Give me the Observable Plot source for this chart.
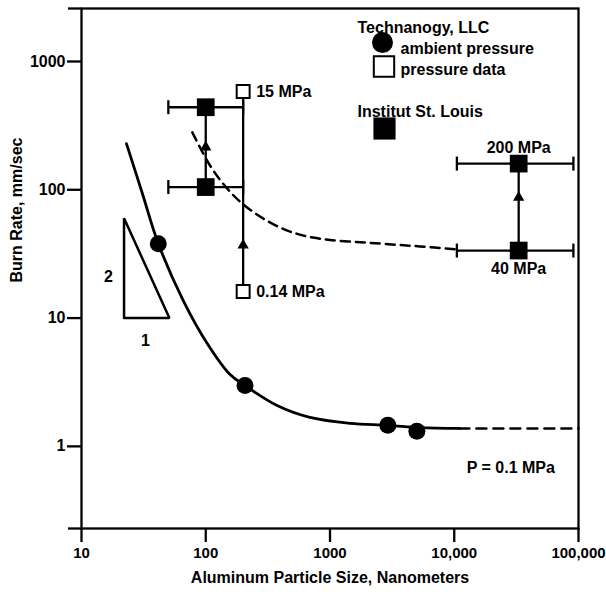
<!DOCTYPE html>
<html><head><meta charset="utf-8">
<script src="https://cdn.jsdelivr.net/npm/d3@7"></script>
<script src="https://cdn.jsdelivr.net/npm/@observablehq/plot@0.6"></script>
<style>body{margin:0;background:#fff}</style>
</head><body><div id="chart"></div>
<script>
// Solid fitted curve (ambient pressure)
const solidX = [23, 30.9, 41.5, 65.9, 102.8, 157, 207, 375, 690, 1450, 2920, 5280, 11000];
const solidY = [229, 93.6, 38.1, 13.7, 6.34, 3.63, 2.98, 2.08, 1.68, 1.51, 1.46, 1.40, 1.38];
// dashed extension of solid curve
const extX = [11000, 100000];
const extY = [1.38, 1.38];
// upper dashed curve
const upperX = [78, 108.6, 149, 215, 396, 730, 2520, 5280, 10470];
const upperY = [280, 154, 102, 72.8, 50.8, 42.4, 38.1, 36.2, 34.3];
// Technanogy ambient pressure points
const ambientX = [41.5, 207, 2920, 5000];
const ambientY = [38, 2.98, 1.46, 1.31];
// Technanogy pressure data
const pressX = [200, 200];
const pressY = [584, 16.1];
const pressLabels = ["15 MPa", "0.14 MPa"];
// Institut St. Louis
const islX = [100, 100, 33000, 33000];
const islY = [440, 105, 160, 33.6];
const islLo = [50, 50, 10500, 10500];
const islHi = [200, 200, 91000, 91000];
const islLabels = ["", "", "200 MPa", "40 MPa"];
// pressure arrows (vertical connectors)
const connX = [100, 200, 33000];
const connLo = [105, 16.1, 33.6];
const connHi = [440, 584, 160];
const arrowY = [215, 37, 87];
// slope triangle
const triX = [22, 51, 22, 22];
const triY = [10, 10, 60, 10];
const triLabelX = [16.5, 32.7];
const triLabelY = [21.1, 6.7];
const triLabels = ["2", "1"];
// note
const noteX = [12600];
const noteY = [0.685];
const noteText = ["P = 0.1 MPa"];
// ticks
const xTicks = [10, 100, 1000, 10000, 100000];
const xTickLabels = ["10", "100", "1000", "10,000", "100,000"];
const yTicks = [1, 10, 100, 1000];
const yTickLabels = ["1", "10", "100", "1000"];
const yDomain = [0.229, 2588];

const solid = solidX.map((x, i) => ({x, y: solidY[i]}));
const ext = extX.map((x, i) => ({x, y: extY[i]}));
const upper = upperX.map((x, i) => ({x, y: upperY[i]}));
const ambient = ambientX.map((x, i) => ({x, y: ambientY[i]}));
const press = pressX.map((x, i) => ({x, y: pressY[i], label: pressLabels[i]}));
const isl = islX.map((x, i) => ({x, y: islY[i], lo: islLo[i], hi: islHi[i], label: islLabels[i]}));
const conn = connX.map((x, i) => ({x, lo: connLo[i], hi: connHi[i], ay: arrowY[i]}));
const tri = triX.map((x, i) => ({x, y: triY[i]}));
const triL = triLabels.map((t, i) => ({x: triLabelX[i], y: triLabelY[i], t}));
const note = noteText.map((t, i) => ({x: noteX[i], y: noteY[i], t}));

const capSymbol = {draw(ctx, size) { const h = Math.sqrt(size / Math.PI); ctx.moveTo(0, -h); ctx.lineTo(0, h); }};
const SW = 2.3;

const chart = Plot.plot({
  width: 606, height: 592,
  marginLeft: 81, marginRight: 28, marginTop: 8, marginBottom: 64,
  style: {fontFamily: "'Liberation Sans', Arial, sans-serif", fontSize: "16px", fontWeight: "bold", color: "black", background: "white"},
  x: {type: "log", domain: [10, 100000]},
  y: {type: "log", domain: yDomain},
  marks: [
    Plot.frame({stroke: "black", strokeWidth: SW}),
    Plot.axisX({ticks: xTicks, tickFormat: d => xTickLabels[xTicks.indexOf(d)], tickSize: 14, tickPadding: 5, strokeWidth: SW, fontSize: 15, label: null}),
    Plot.axisY({ticks: yTicks, tickFormat: d => yTickLabels[yTicks.indexOf(d)], tickSize: 14, tickPadding: 2, strokeWidth: SW, label: null}),
    Plot.axisY({ticks: yDomain, tickFormat: () => "", tickSize: 13, strokeWidth: SW, label: null}),
    Plot.text(["Aluminum Particle Size, Nanometers"], {frameAnchor: "bottom", dy: 49, lineAnchor: "middle"}),
    Plot.text(["Burn Rate, mm/sec"], {frameAnchor: "left", dx: -65, dy: 14, rotate: -90, lineAnchor: "middle"}),
    // curves
    Plot.line(solid, {x: "x", y: "y", curve: "catmull-rom", stroke: "black", strokeWidth: 2.8}),
    Plot.line(ext, {x: "x", y: "y", stroke: "black", strokeWidth: 2.5, strokeDasharray: "10,7"}),
    Plot.line(upper, {x: "x", y: "y", curve: "catmull-rom", stroke: "black", strokeWidth: 2.5, strokeDasharray: "9,6"}),
    // connectors
    Plot.ruleX(conn, {x: "x", y1: "lo", y2: "hi", stroke: "black", strokeWidth: SW}),
    Plot.dot(conn, {x: "x", y: "ay", symbol: "triangle", r: 4.2, fill: "black"}),
    // error bars
    Plot.ruleY(isl, {y: "y", x1: "lo", x2: "hi", stroke: "black", strokeWidth: SW}),
    Plot.dot(isl, {x: "lo", y: "y", symbol: capSymbol, r: 7, stroke: "black", strokeWidth: SW}),
    Plot.dot(isl, {x: "hi", y: "y", symbol: capSymbol, r: 7, stroke: "black", strokeWidth: SW}),
    Plot.dot(isl, {x: "x", y: "y", symbol: "square", r: 10, fill: "black"}),
    Plot.text(isl.filter(d => d.label && d.y > 100), {x: "x", y: "y", text: "label", dy: -16}),
    Plot.text(isl.filter(d => d.label && d.y < 100), {x: "x", y: "y", text: "label", dy: 18}),
    // pressure data
    Plot.dot(press, {x: "x", y: "y", symbol: "square", r: 7.3, fill: "white", stroke: "black", strokeWidth: 2}),
    Plot.text(press, {x: "x", y: "y", text: "label", dx: 13, textAnchor: "start"}),
    // ambient
    Plot.dot(ambient, {x: "x", y: "y", r: 8.5, fill: "black"}),
    // slope triangle
    Plot.line(tri, {x: "x", y: "y", stroke: "black", strokeWidth: 2.5, strokeLinejoin: "miter"}),
    Plot.text(triL, {x: "x", y: "y", text: "t"}),
    Plot.text(note, {x: "x", y: "y", text: "t", textAnchor: "start"}),
    // legend
    Plot.text(["Technanogy, LLC"], {frameAnchor: "top-left", dx: 276, dy: 13, textAnchor: "start"}),
    Plot.dot([0], {frameAnchor: "top-left", dx: 301, dy: 34, r: 10.5, fill: "black"}),
    Plot.text(["ambient pressure"], {frameAnchor: "top-left", dx: 319, dy: 34, textAnchor: "start"}),
    Plot.dot([0], {frameAnchor: "top-left", dx: 302.5, dy: 58, symbol: "square", r: 11.5, fill: "white", stroke: "black", strokeWidth: 2}),
    Plot.text(["pressure data"], {frameAnchor: "top-left", dx: 319, dy: 55, textAnchor: "start"}),
    Plot.text(["Institut St. Louis"], {frameAnchor: "top-left", dx: 276, dy: 97, textAnchor: "start"}),
    Plot.dot([0], {frameAnchor: "top-left", dx: 303, dy: 120, symbol: "square", r: 12.5, fill: "black"})
  ]
});
document.getElementById("chart").appendChild(chart);
</script>
</body></html>
